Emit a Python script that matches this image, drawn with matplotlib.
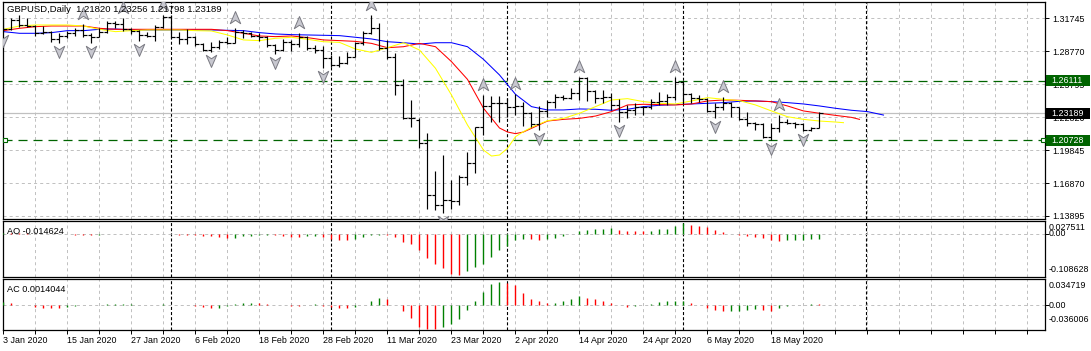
import numpy as np
import matplotlib

matplotlib.use("Agg")
import matplotlib.pyplot as plt
from matplotlib import transforms
from matplotlib.path import Path
from matplotlib.patches import Rectangle

plt.rcParams["font.family"] = ["Liberation Sans", "DejaVu Sans"]
plt.rcParams["lines.scale_dashes"] = False

# GBPUSD daily bars, 3 Jan 2020 .. 26 May 2020
OPEN = [
    1.3153, 1.3075, 1.3159, 1.3114, 1.3105, 1.3039, 1.3054, 1.2985, 1.3015, 1.3039,
    1.3069, 1.3024, 1.3009, 1.3054, 1.3129, 1.3123, 1.3075, 1.3063, 1.3024, 1.3015,
    1.3099, 1.3189, 1.3003, 1.2985, 1.3009, 1.2942, 1.2888, 1.2918, 1.2963, 1.2954,
    1.3054, 1.3039, 1.3015, 1.3003, 1.2933, 1.2888, 1.2963, 1.2942, 1.3009, 1.2903,
    1.2888, 1.2813, 1.2753, 1.2768, 1.2828, 1.2948, 1.3039, 1.3084, 1.2903, 1.2828,
    1.2572, 1.2271, 1.2256, 1.2046, 1.1579, 1.1489, 1.1534, 1.1525, 1.1745, 1.1865,
    1.2190, 1.2383, 1.2407, 1.2413, 1.2371, 1.2383, 1.2317, 1.2220, 1.2338, 1.2422,
    1.2461, 1.2458, 1.2503, 1.2632, 1.2521, 1.2452, 1.2461, 1.2392, 1.2332, 1.2347,
    1.2371, 1.2371, 1.2422, 1.2431, 1.2467, 1.2602, 1.2491, 1.2452, 1.2449, 1.2341,
    1.2377, 1.2407, 1.2371, 1.2262, 1.2226, 1.2220, 1.2100, 1.2187, 1.2241, 1.2232,
    1.2220, 1.2166, 1.21820,
]
HIGH = [
    1.3165, 1.3174, 1.3204, 1.3174, 1.3114, 1.3105, 1.3063, 1.3039, 1.3063, 1.3084,
    1.3123, 1.3039, 1.3084, 1.3153, 1.3153, 1.3174, 1.3084, 1.3069, 1.3054, 1.3114,
    1.3204, 1.3204, 1.3054, 1.3075, 1.3015, 1.2954, 1.2963, 1.2979, 1.3003, 1.3084,
    1.3069, 1.3054, 1.3039, 1.3015, 1.2942, 1.2985, 1.2979, 1.3039, 1.3015, 1.2933,
    1.2924, 1.2843, 1.2834, 1.2873, 1.2963, 1.3063, 1.3204, 1.3129, 1.2979, 1.2858,
    1.2623, 1.2437, 1.2271, 1.2136, 1.1799, 1.1940, 1.1715, 1.1760, 1.1970, 1.2196,
    1.2482, 1.2473, 1.2473, 1.2452, 1.2491, 1.2422, 1.2332, 1.2383, 1.2437, 1.2488,
    1.2482, 1.2542, 1.2648, 1.2642, 1.2527, 1.2527, 1.2503, 1.2443, 1.2392, 1.2407,
    1.2383, 1.2443, 1.2512, 1.2488, 1.2648, 1.2611, 1.2497, 1.2482, 1.2452, 1.2407,
    1.2467, 1.2422, 1.2377, 1.2332, 1.2241, 1.2232, 1.2226, 1.2301, 1.2262, 1.2241,
    1.2226, 1.2196, 1.23256,
]
LOW = [
    1.3054, 1.3069, 1.3099, 1.3099, 1.3015, 1.3033, 1.2963, 1.2954, 1.2994, 1.3015,
    1.3009, 1.2954, 1.3003, 1.3039, 1.3084, 1.3063, 1.3033, 1.2973, 1.3003, 1.2973,
    1.3084, 1.2994, 1.2939, 1.2939, 1.2924, 1.2879, 1.2873, 1.2894, 1.2942, 1.2948,
    1.2994, 1.3003, 1.2973, 1.2912, 1.2852, 1.2882, 1.2882, 1.2918, 1.2888, 1.2858,
    1.2723, 1.2738, 1.2738, 1.2762, 1.2822, 1.2933, 1.3033, 1.2888, 1.2804, 1.2482,
    1.2262, 1.2196, 1.2000, 1.1450, 1.1444, 1.1414, 1.1450, 1.1489, 1.1669, 1.1775,
    1.2121, 1.2241, 1.2241, 1.2286, 1.2301, 1.2202, 1.2196, 1.2166, 1.2286, 1.2362,
    1.2437, 1.2443, 1.2437, 1.2431, 1.2407, 1.2407, 1.2347, 1.2241, 1.2271, 1.2301,
    1.2301, 1.2353, 1.2392, 1.2392, 1.2437, 1.2401, 1.2407, 1.2422, 1.2332, 1.2271,
    1.2347, 1.2280, 1.2256, 1.2202, 1.2166, 1.2091, 1.2076, 1.2151, 1.2220, 1.2181,
    1.2160, 1.2160, 1.21798,
]
CLOSE = [
    1.3075, 1.3159, 1.3114, 1.3105, 1.3039, 1.3054, 1.2985, 1.3015, 1.3039, 1.3069,
    1.3024, 1.3009, 1.3054, 1.3129, 1.3123, 1.3075, 1.3063, 1.3024, 1.3015, 1.3099,
    1.3189, 1.3003, 1.2985, 1.3009, 1.2942, 1.2888, 1.2918, 1.2963, 1.2954, 1.3054,
    1.3039, 1.3015, 1.3003, 1.2933, 1.2888, 1.2963, 1.2942, 1.3009, 1.2903, 1.2888,
    1.2813, 1.2753, 1.2768, 1.2828, 1.2948, 1.3039, 1.3084, 1.2903, 1.2828, 1.2572,
    1.2271, 1.2271, 1.2046, 1.1579, 1.1489, 1.1534, 1.1525, 1.1745, 1.1865, 1.2190,
    1.2383, 1.2407, 1.2413, 1.2371, 1.2383, 1.2317, 1.2220, 1.2338, 1.2422, 1.2461,
    1.2458, 1.2503, 1.2632, 1.2521, 1.2452, 1.2461, 1.2392, 1.2332, 1.2347, 1.2371,
    1.2371, 1.2422, 1.2431, 1.2467, 1.2602, 1.2491, 1.2452, 1.2449, 1.2341, 1.2377,
    1.2407, 1.2371, 1.2262, 1.2226, 1.2220, 1.2100, 1.2187, 1.2241, 1.2232, 1.2220,
    1.2166, 1.2184, 1.23189,
]

# Alligator lines (already shifted forward, so they run past the last bar)
LIPS_X = [0, 2, 4, 6, 8, 10, 12, 14, 16, 18, 20, 22, 24, 26, 28, 30, 32, 34, 36, 38,
          40, 42, 44, 46, 48, 50, 52, 54, 56, 58, 60, 61, 62, 63, 64, 65, 66, 68, 70,
          72, 74, 76, 78, 80, 82, 84, 86, 88, 90, 92, 94, 96, 98, 100, 102, 104, 105]
LIPS = [1.3075, 1.3105, 1.3114, 1.3114, 1.3114, 1.3105, 1.3075, 1.3054, 1.3063, 1.3069,
        1.3069, 1.3069, 1.3063, 1.3060, 1.3024, 1.2979, 1.2973, 1.2994, 1.3003, 1.2985,
        1.2963, 1.2957, 1.2897, 1.2867, 1.2909, 1.2954, 1.2888, 1.2723, 1.2482, 1.2211,
        1.1985, 1.1931, 1.1940, 1.2000, 1.2106, 1.2151, 1.2190, 1.2250, 1.2271, 1.2317,
        1.2377, 1.2437, 1.2449, 1.2422, 1.2407, 1.2401, 1.2428, 1.2458, 1.2443, 1.2431,
        1.2392, 1.2338, 1.2286, 1.2262, 1.2247, 1.2238, 1.2232]
TEETH_X = [0, 2, 4, 6, 8, 10, 12, 14, 16, 18, 20, 22, 24, 26, 28, 30, 32, 34, 36, 38,
           40, 42, 44, 46, 48, 50, 52, 54, 56, 58, 60, 62, 63, 64, 65, 66, 68, 70, 72,
           74, 76, 78, 80, 82, 84, 86, 88, 90, 92, 94, 96, 98, 100, 102, 104, 106, 107]
TEETH = [1.3063, 1.3084, 1.3099, 1.3105, 1.3105, 1.3105, 1.3084, 1.3075, 1.3075, 1.3075,
         1.3075, 1.3075, 1.3075, 1.3075, 1.3063, 1.3039, 1.3015, 1.3009, 1.3015, 1.3000,
         1.2979, 1.2973, 1.2966, 1.2948, 1.2909, 1.2918, 1.2948, 1.2918, 1.2783, 1.2623,
         1.2362, 1.2184, 1.2148, 1.2133, 1.2148, 1.2181, 1.2247, 1.2262, 1.2271, 1.2292,
         1.2332, 1.2392, 1.2398, 1.2395, 1.2392, 1.2401, 1.2428, 1.2437, 1.2434, 1.2428,
         1.2422, 1.2383, 1.2338, 1.2317, 1.2298, 1.2280, 1.2262]
JAW_X = [0, 2, 4, 6, 8, 10, 12, 14, 16, 18, 20, 22, 24, 26, 28, 30, 32, 34, 36, 38,
         40, 42, 44, 46, 48, 50, 52, 54, 56, 58, 60, 62, 64, 66, 68, 70, 72, 74, 76,
         78, 80, 82, 84, 86, 88, 90, 92, 94, 96, 98, 100, 102, 104, 106, 108, 110]
JAW = [1.3054, 1.3039, 1.3039, 1.3045, 1.3063, 1.3063, 1.3075, 1.3078, 1.3069, 1.3069,
       1.3069, 1.3069, 1.3069, 1.3069, 1.3066, 1.3063, 1.3045, 1.3033, 1.3027, 1.3024,
       1.3021, 1.3018, 1.3003, 1.2988, 1.2963, 1.2954, 1.2942, 1.2954, 1.2954, 1.2918,
       1.2804, 1.2663, 1.2488, 1.2377, 1.2347, 1.2347, 1.2356, 1.2353, 1.2344, 1.2353,
       1.2377, 1.2389, 1.2395, 1.2401, 1.2407, 1.2413, 1.2425, 1.2428, 1.2422, 1.2413,
       1.2401, 1.2383, 1.2362, 1.2344, 1.2332, 1.2301]

# bars carrying a fractal
FRACTAL_UP = [10, 15, 20, 29, 37, 46, 60, 64, 72, 84, 90, 97]
FRACTAL_DOWN = [0, 7, 11, 17, 26, 34, 40, 55, 67, 77, 89, 96, 100]

# Awesome / Accelerator oscillator values per bar
AO = [
    0.0020, 0.0015, 0.0010, 0.0005, -0.0005, -0.0010, -0.0015, -0.0020, -0.0025, -0.0030,
    -0.0035, -0.0040, -0.0030, -0.0025, -0.0020, -0.0015, -0.0018, -0.0022, -0.0025, -0.0020,
    -0.0010, -0.0015, -0.0030, -0.0040, -0.0050, -0.0065, -0.0075, -0.0090, -0.0110, -0.0105,
    -0.0075, -0.0055, -0.0045, -0.0040, -0.0045, -0.0065, -0.0080, -0.0090, -0.0075, -0.0065,
    -0.0090, -0.0140, -0.0165, -0.0170, -0.0140, -0.0090, -0.0045, -0.0030, -0.0035, -0.0090,
    -0.0230, -0.0280, -0.0440, -0.0640, -0.0810, -0.0900, -0.1060, -0.1086, -0.0985, -0.0880,
    -0.0800, -0.0620, -0.0420, -0.0320, -0.0170, -0.0140, -0.0150, -0.0160, -0.0140, -0.0120,
    -0.0060, -0.0020, 0.0070, 0.0090, 0.0110, 0.0130, 0.0135, 0.0095, 0.0065, 0.0060,
    0.0055, 0.0075, 0.0110, 0.0130, 0.0185, 0.0275, 0.0230, 0.0200, 0.0170, 0.0100,
    0.0030, -0.0005, -0.0030, -0.0065, -0.0090, -0.0130, -0.0180, -0.0185, -0.0180, -0.0175,
    -0.0165, -0.0155, -0.014624,
]
AC = [
    0.0040, 0.0030, 0.0008, -0.0005, -0.0030, -0.0040, -0.0042, -0.0045, -0.0030, -0.0010,
    -0.0005, -0.0002, 0.0005, 0.0010, 0.0012, 0.0014, 0.0015, 0.0008, 0.0002, 0.0005,
    0.0010, 0.0005, 0.0002, -0.0005, -0.0012, -0.0028, -0.0040, -0.0038, -0.0010, 0.0015,
    0.0030, 0.0035, 0.0028, 0.0018, 0.0005, -0.0005, -0.0010, -0.0012, 0.0005, 0.0010,
    -0.0008, -0.0028, -0.0040, -0.0045, -0.0028, 0.0000, 0.0056, 0.0100, 0.0084, 0.0000,
    -0.0084, -0.0196, -0.0325, -0.0353, -0.0360, -0.0325, -0.0280, -0.0207, -0.0073, 0.0056,
    0.0196, 0.0320, 0.0347, 0.0330, 0.0295, 0.0185, 0.0095, 0.0055, 0.0025, 0.0030,
    0.0055, 0.0085, 0.0130, 0.0110, 0.0085, 0.0055, 0.0028, 0.0005, -0.0028, -0.0010,
    0.0000, 0.0020, 0.0040, 0.0055, 0.0057, 0.0065, 0.0028, 0.0005, -0.0040, -0.0072,
    -0.0095, -0.0093, -0.0085, -0.0075, -0.0065, -0.0068, -0.0085, -0.0040, -0.0018, -0.0005,
    0.0005, 0.0018, 0.0014044,
]

PRICE_GRID = [1.31745, 1.28770, 1.25795, 1.22820, 1.19845, 1.16870, 1.13895]
LEVELS = [1.26111, 1.20728]
LAST = 1.23189
SEPARATORS = [21, 41, 63, 85, 107.8]
DATE_LABELS = ["3 Jan 2020", "15 Jan 2020", "27 Jan 2020", "6 Feb 2020", "18 Feb 2020",
               "28 Feb 2020", "11 Mar 2020", "23 Mar 2020", "2 Apr 2020", "14 Apr 2020",
               "24 Apr 2020", "6 May 2020", "18 May 2020"]
TITLE = "GBPUSD,Daily  1.21820 1.23256 1.21798 1.23189"

GRID = "#c0c0c0"
LEVEL_GREEN = "#006400"
UP_GREEN = "#008000"
DOWN_RED = "#ff0000"
FS = 6.4

W, H = 1091, 351
fig = plt.figure(figsize=(W / 100, H / 100), dpi=100)


def px_axes(x0, y0, x1, y1):
    # rectangle given in pixels from the top-left corner
    return fig.add_axes([x0 / W, 1 - y1 / H, (x1 - x0) / W, (y1 - y0) / H])


ax = px_axes(2.5, 2, 1045, 219)
ao_ax = px_axes(2.5, 221, 1045, 277)
ac_ax = px_axes(2.5, 279, 1045, 330)

idx = np.arange(len(CLOSE))
x_lo, x_hi = -0.125, 130.19
dash_grid = (0, (2.2, 2.2))

for a in (ax, ao_ax, ac_ax):
    a.set_xlim(x_lo, x_hi)
    a.set_xticks(np.arange(0, x_hi, 4))
    a.grid(True, axis="x", color=GRID, ls=dash_grid, lw=0.7)
    a.set_axisbelow(True)
    for s in a.spines.values():
        s.set_linewidth(0.9)
        s.set_color("black")
    for sep in SEPARATORS:
        a.axvline(sep, color="black", ls=(0, (2.2, 1.5)), lw=0.8, zorder=1)
    a.tick_params(axis="x", length=0, labelbottom=False)

# ---- main price panel ----
ax.set_ylim(1.13624, 1.33216)
ax.set_yticks(PRICE_GRID)
ax.yaxis.tick_right()
ax.tick_params(axis="y", direction="out", length=3, width=0.7, pad=2.2, labelsize=FS)
ax.set_yticklabels([f"{p:.5f}" for p in PRICE_GRID])
ax.grid(True, axis="y", color=GRID, ls=dash_grid, lw=0.7)

ax.axhline(LAST, color=GRID, lw=0.9, zorder=1.5)
for lvl in LEVELS:
    ax.axhline(lvl, color=LEVEL_GREEN, ls=(0, (6.5, 4.3)), lw=0.9, zorder=1.6)
ax.plot([0.002, 0.998], [LEVELS[1]] * 2, ls="none", marker="s", ms=3.2, mfc="white",
        mec=LEVEL_GREEN, mew=0.8, clip_on=False, zorder=6,
        transform=transforms.blended_transform_factory(ax.transAxes, ax.transData))

ax.plot(JAW_X, JAW, color="#0000ff", lw=0.75, zorder=2)
ax.plot(TEETH_X, TEETH, color="#ff0000", lw=0.75, zorder=2.1)
ax.plot(LIPS_X, LIPS, color="#ffff00", lw=0.75, zorder=2.2)

ax.vlines(idx, LOW, HIGH, color="black", lw=0.85, zorder=3)
ax.hlines(OPEN, idx - 0.4, idx, color="black", lw=0.85, zorder=3)
ax.hlines(CLOSE, idx, idx + 0.4, color="black", lw=0.85, zorder=3)

up_arrow = Path([(0, 1), (0.75, -0.75), (0, -0.25), (-0.75, -0.75), (0, 1)],
                [Path.MOVETO, Path.LINETO, Path.LINETO, Path.LINETO, Path.CLOSEPOLY])
down_arrow = Path([(0, -1), (0.75, 0.75), (0, 0.25), (-0.75, 0.75), (0, -1)],
                  [Path.MOVETO, Path.LINETO, Path.LINETO, Path.LINETO, Path.CLOSEPOLY])
above = transforms.offset_copy(ax.transData, fig=fig, y=10, units="dots")
below = transforms.offset_copy(ax.transData, fig=fig, y=-8, units="dots")
ax.plot(FRACTAL_UP, [HIGH[i] for i in FRACTAL_UP], ls="none", marker=up_arrow, ms=10,
        mfc="#c8c8d0", mec="#7a7a82", mew=0.7, transform=above, zorder=4)
ax.plot(FRACTAL_DOWN, [LOW[i] for i in FRACTAL_DOWN], ls="none", marker=down_arrow, ms=10,
        mfc="#c8c8d0", mec="#7a7a82", mew=0.7, transform=below, zorder=4)

fig.text(7 / W, 1 - 10 / H, TITLE, fontsize=6.8, va="center", ha="left", zorder=12)

# price boxes on the right scale
ident = transforms.IdentityTransform()
for price, face in [(LEVELS[0], LEVEL_GREEN), (LAST, "black"), (LEVELS[1], LEVEL_GREEN)]:
    y = ax.transData.transform((0, price))[1]
    fig.add_artist(Rectangle((1046, y - 5.5), 44, 11, transform=ident, fc=face, ec="none",
                             zorder=10))
    fig.text(1051, y, f"{price:.5f}", transform=ident, color="white", fontsize=FS,
             va="center", ha="left", zorder=11)


# ---- oscillators ----
def histogram(a, vals, lo, hi, name, last_txt):
    vals = np.asarray(vals)
    rising = np.diff(vals, prepend=-np.inf) > 0
    a.vlines(idx, 0, vals, colors=np.where(rising, UP_GREEN, DOWN_RED), lw=1.0, zorder=3)
    a.axhline(0, color=GRID, ls=dash_grid, lw=0.7, zorder=1)
    a.set_ylim(lo, hi)
    a.set_yticks([0])
    a.yaxis.tick_right()
    a.tick_params(axis="y", direction="out", length=3, width=0.7, labelright=False)
    a.text(0.0045, 1 - 10 / ((a.get_position().height) * H), f"{name} {last_txt}",
           transform=a.transAxes, fontsize=FS + 0.2, va="center", ha="left")


histogram(ao_ax, AO, -0.11386, 0.03275, "AO", "-0.014624")
histogram(ac_ax, AC, -0.03751, 0.03923, "AC", "0.0014044")

for txt, ypx in [("0.027511", 228), ("0.00", 233), ("-0.108628", 270),
                 ("0.034719", 286), ("0.00", 305), ("-0.036006", 320)]:
    fig.text(1048.5 / W, 1 - ypx / H, txt, fontsize=FS, va="center", ha="left")

# ---- date axis ----
ac_ax.tick_params(axis="x", length=3, width=0.7, direction="out", labelbottom=True,
                  labelsize=FS, pad=1.5)
ticks = np.arange(0, x_hi, 4)
labels = [DATE_LABELS[k // 2] if k % 2 == 0 and k // 2 < len(DATE_LABELS) else ""
          for k in range(len(ticks))]
ac_ax.set_xticks(ticks)
ac_ax.set_xticklabels(labels)
for lab in ac_ax.get_xticklabels():
    lab.set_horizontalalignment("left")

fig.savefig("out.png", dpi=100)
